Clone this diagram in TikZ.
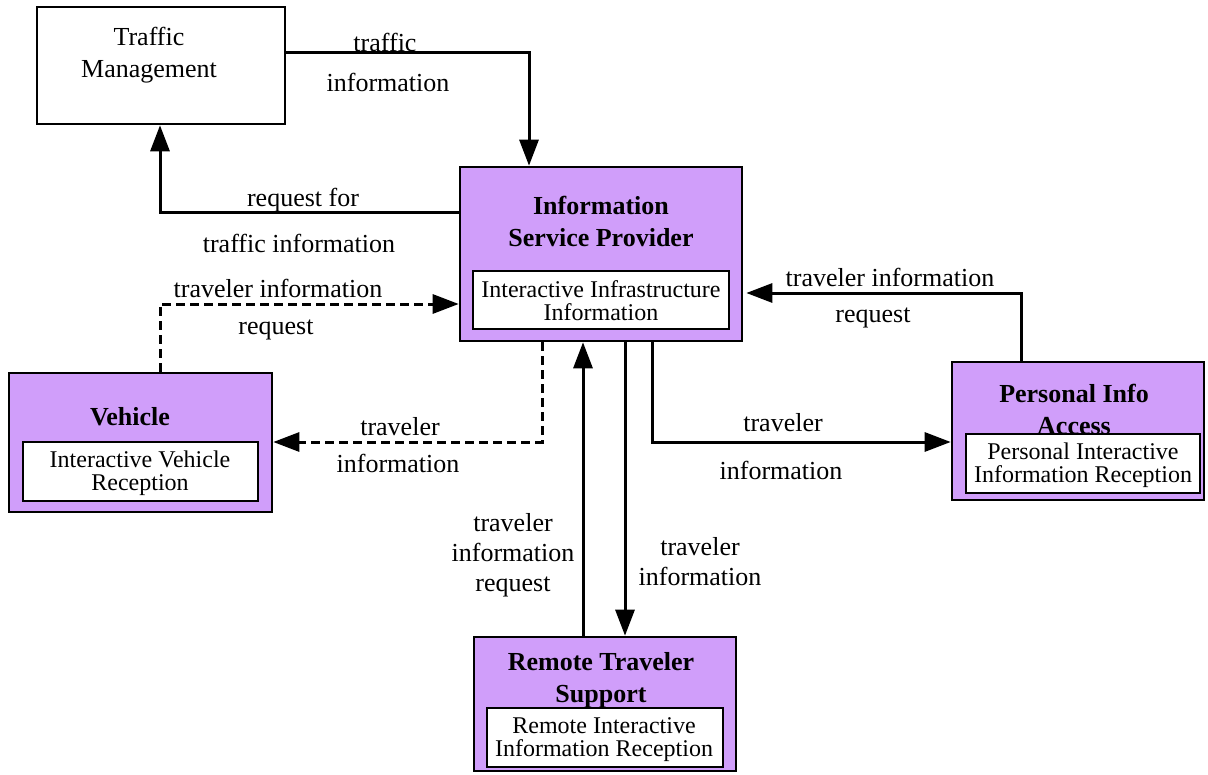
\documentclass[tikz,border=0pt]{standalone}
\usepackage{fontspec}
\setmainfont{Liberation Serif}
\usetikzlibrary{arrows.meta,fit}
\definecolor{ispurple}{RGB}{208,158,250}
\begin{document}
\begin{tikzpicture}[x=0.5pt,y=-0.5pt,
  outerbox/.style={draw=black, line width=1.3pt, inner sep=0pt},
  subsys/.style={outerbox, fill=ispurple},
  innerbox/.style={draw=black, line width=1pt, fill=white, inner sep=0pt},
  boxtitle/.style={font=\fontsize{13}{16}\selectfont\bfseries, align=center, inner sep=0pt},
  boxtext/.style={font=\fontsize{12}{11.5}\selectfont, align=center, inner sep=0pt},
  flowtext/.style={font=\fontsize{13}{15}\selectfont, align=center, inner sep=0pt},
  flow/.style={line width=1.5pt, -{Triangle[length=13pt,width=9.5pt]}},
  dflow/.style={flow, dash pattern=on 4.5pt off 2.5pt},
]
\useasboundingbox (0,0) rectangle (1208,775);

% Traffic Management (external, white)
\node[outerbox, fill=white, fit={(37,7) (285,124)}] (tm) {};
\node[flowtext, font=\fontsize{13}{16}\selectfont] (tmtxt) at (149,55) {Traffic\\Management};

% Information Service Provider
\node[subsys, fit={(460,167) (742,341)}] (isp) {};
\node[boxtitle] (isptitle) at (601,221) {Information\\Service Provider};
\node[innerbox, fit={(473,271) (729,329)}] (ispin) {};
\node[boxtext] (ispintxt) at (601,301) {Interactive Infrastructure\\Information};

% Vehicle
\node[subsys, fit={(9,373) (272,512)}] (veh) {};
\node[boxtitle] (vehtitle) at (130,417) {Vehicle};
\node[innerbox, fit={(23,442) (258,501)}] (vehin) {};
\node[boxtext] (vehintxt) at (140,473) {Interactive Vehicle\\Reception};

% Personal Info Access
\node[subsys, fit={(952,362) (1204,500)}] (pia) {};
\node[boxtitle] (piatitle) at (1074,409) {Personal Info\\Access};
\node[innerbox, fit={(966,434) (1200,493)}] (piain) {};
\node[boxtext] (piaintxt) at (1083,465) {Personal Interactive\\Information Reception};

% Remote Traveler Support
\node[subsys, fit={(474,637) (736,771)}] (rts) {};
\node[boxtitle] (rtstitle) at (601,680) {Remote Traveler\\Support};
\node[innerbox, fit={(487,708) (723,767)}] (rtsin) {};
\node[boxtext] (rtsintxt) at (604,740) {Remote Interactive\\Information Reception};

% Flows
\draw[flow] (tm.east |- 0,53) -| (isp.north -| 529,0);
\draw[flow] (isp.west |- 0,213) -| (tm.south -| 160,0);
\draw[dflow] (veh.north -| 160,0) |- (isp.west |- 0,304);
\draw[dflow] (isp.south -| 542,0) |- (veh.east |- 0,442);
\draw[flow] (rts.north -| 583,0) -- (isp.south -| 583,0);
\draw[flow] (isp.south -| 625,0) -- (rts.north -| 625,0);
\draw[flow] (isp.south -| 652,0) |- (pia.west |- 0,442);
\draw[flow, shorten >=1.5pt] (pia.north -| 1021,0) |- (isp.east |- 0,293);

% Flow labels
\node[flowtext] (f1a) at (385,42) {traffic};
\node[flowtext] (f1b) at (388,82) {information};
\node[flowtext] (f2a) at (303,200) {request for};
\node[flowtext] (f2b) at (299,243) {traffic information};
\node[flowtext] (f3a) at (278,288) {traveler information};
\node[flowtext] (f3b) at (276,330) {request};
\node[flowtext] (f4a) at (400,427) {traveler};
\node[flowtext] (f4b) at (398,463) {information};
\node[flowtext] (f5a) at (890,277) {traveler information};
\node[flowtext] (f5b) at (873,318) {request};
\node[flowtext] (f6a) at (783,423) {traveler};
\node[flowtext] (f6b) at (781,470) {information};
\node[flowtext] (f7) at (513,555) {traveler\\information\\request};
\node[flowtext] (f8) at (700,562) {traveler\\information};
\end{tikzpicture}
\end{document}
